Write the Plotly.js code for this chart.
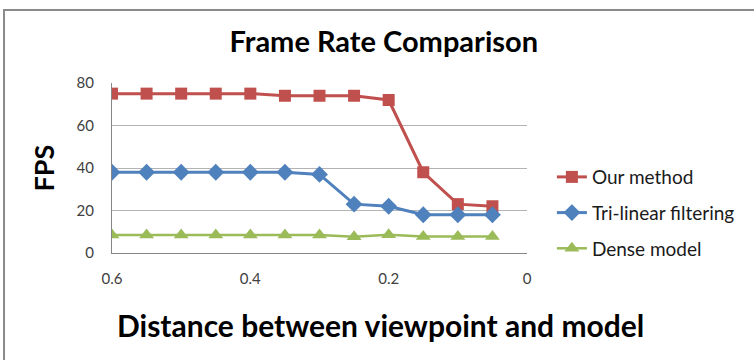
<!DOCTYPE html>
<html>
<head>
<meta charset="utf-8">
<script src="https://cdn.plot.ly/plotly-3.0.1.min.js"></script>
<style>
  html, body { margin: 0; padding: 0; background: #ffffff; }
  #chart { width: 754px; height: 360px; }
</style>
</head>
<body>
<div id="chart"></div>
<script>
// Viewpoint distance for each measurement (x axis runs from far to near)
const distances = [0.6, 0.55, 0.5, 0.45, 0.4, 0.35, 0.3, 0.25, 0.2, 0.15, 0.1, 0.05];

// Frames per second for each rendering approach
const ourMethod = [75, 75, 75, 75, 75, 74, 74, 74, 72, 38, 23, 22];
const trilinear = [38, 38, 38, 38, 38, 38, 37, 23, 22, 18, 18, 18];
const denseModel = [8.5, 8.5, 8.5, 8.5, 8.5, 8.5, 8.5, 7.7, 8.6, 7.8, 7.8, 7.8];

const seriesNames = ['Our method', 'Tri-linear filtering', 'Dense model'];
const yTicks = [0, 20, 40, 60, 80];
const xTicks = [0.6, 0.4, 0.2, 0];
const xTickText = ['0.6', '0.4', '0.2', '0'];

const FONT = 'Lato, "Open Sans", sans-serif';

function series(y, name, color, symbol, size, width, group) {
  return {
    x: distances, y: y, name: name, type: 'scatter', mode: 'lines+markers',
    legendgroup: group,
    line: { color: color, width: width },
    marker: { color: color, symbol: symbol, size: size, line: { width: 0 } }
  };
}

const traces = [
  series(ourMethod, seriesNames[0], '#C0504D', 'square', 12, 3, 'a'),
  series(trilinear, seriesNames[1], '#4F81BD', 'diamond', 13, 3, 'b'),
  series(denseModel, seriesNames[2], '#9BBB59', 'triangle-up', 13, 2.5, 'c')
];

const layout = {
  width: 754, height: 360,
  margin: { l: 112, r: 227, t: 83, b: 107, pad: 0 },
  paper_bgcolor: '#ffffff', plot_bgcolor: '#ffffff',
  font: { family: FONT, color: '#262626' },
  title: {
    text: '<b>Frame Rate Comparison</b>',
    font: { family: FONT, size: 29, color: '#000000' },
    x: 0.509, xanchor: 'center', xref: 'container',
    y: 0.883, yanchor: 'middle', yref: 'container'
  },
  xaxis: {
    range: [0.6, 0], tickvals: xTicks, ticktext: xTickText,
    showgrid: false, zeroline: false,
    showline: true, linecolor: '#868686', linewidth: 1,
    ticks: '', ticklabelstandoff: 12,
    tickfont: { family: FONT, size: 15, color: '#404040' }
  },
  yaxis: {
    range: [0, 80], tickvals: yTicks,
    showgrid: true, gridcolor: '#b3b3b3', gridwidth: 1,
    zeroline: false, showline: true, linecolor: '#868686', linewidth: 1,
    ticks: '', ticklabelstandoff: 14,
    tickfont: { family: FONT, size: 15, color: '#404040' },
    title: { text: '<b>FPS</b>', font: { family: FONT, size: 27, color: '#000000' }, standoff: 14 }
  },
  legend: {
    x: 1.06, xanchor: 'left', y: 0.235, yanchor: 'middle',
    font: { family: FONT, size: 19, color: '#1a1a1a' },
    bgcolor: 'rgba(0,0,0,0)', tracegroupgap: 8, traceorder: 'grouped'
  },
  annotations: [{
    text: '<b>Distance between viewpoint and model</b>',
    xref: 'paper', yref: 'paper', x: 0.646, y: -0.4235,
    xanchor: 'center', yanchor: 'middle', showarrow: false,
    font: { family: FONT, size: 30, color: '#000000' }
  }],
  shapes: [{
    type: 'path', xref: 'paper', yref: 'paper',
    path: 'M -0.2602,-0.64 L -0.2602,1.43 L 1.56,1.43',
    line: { color: '#8a8a8a', width: 2 }
  }]
};

Plotly.newPlot('chart', traces, layout, { displayModeBar: false, staticPlot: true });
</script>
</body>
</html>
